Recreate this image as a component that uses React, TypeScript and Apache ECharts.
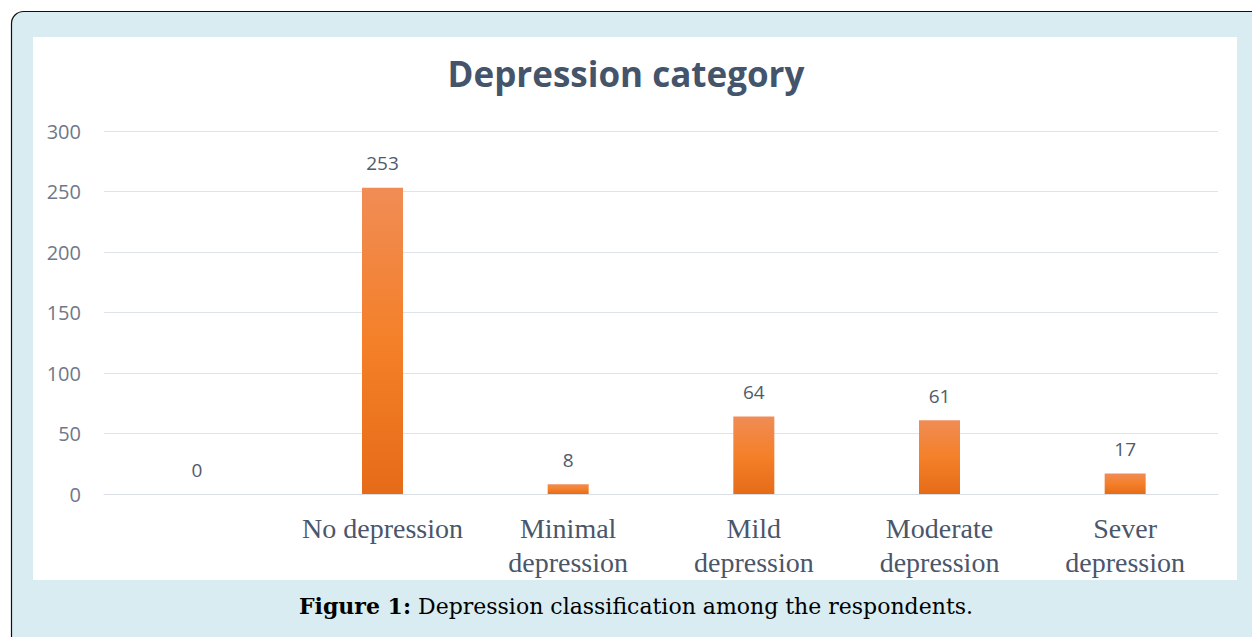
import React, { useEffect, useRef } from "react";
import * as echarts from "echarts";

const categories = ["", "No depression", "Minimal\ndepression", "Mild\ndepression", "Moderate\ndepression", "Sever\ndepression"];
const counts = [0, 253, 8, 64, 61, 17];
const yTicks = { min: 0, max: 300, interval: 50 };
const chartTitle = "Depression category";
const captionBold = "Figure 1:";
const captionText = " Depression classification among the respondents.";

export default function App() {
  const ref = useRef<HTMLDivElement>(null);
  useEffect(() => {
    document.body.style.margin = "0";
    const chart = echarts.init(ref.current!, null, { renderer: "svg" });
    chart.setOption({
      animation: false,
      backgroundColor: "#ffffff",
      graphic: [
        {
          type: "rect",
          z: -10,
          silent: true,
          shape: { x: 11.5, y: 11.5, width: 1252, height: 640, r: 12 },
          style: { fill: "#d8ecf1", stroke: "#111111", lineWidth: 1.2 },
        },
        {
          type: "rect",
          z: -9,
          silent: true,
          shape: { x: 33, y: 37, width: 1204, height: 543 },
          style: { fill: "#ffffff" },
        },
        {
          type: "text",
          x: 636,
          y: 606,
          style: {
            text: "{b|" + captionBold + "}{n|" + captionText + "}",
            align: "center",
            verticalAlign: "middle",
            rich: {
              b: { fontFamily: "DejaVu Serif", fontWeight: "bold", fontSize: 22, fill: "#000" },
              n: { fontFamily: "DejaVu Serif", fontSize: 22, fill: "#000" },
            },
          },
        },
      ],
      title: {
        text: chartTitle,
        left: "center",
        top: 51,
        textStyle: { fontFamily: "Open Sans", fontWeight: "bold", fontSize: 35, color: "#44546a" },
      },
      grid: { left: 104, right: 34, top: 131, bottom: 143, containLabel: false },
      xAxis: {
        type: "category",
        data: categories,
        axisLine: { show: true, lineStyle: { color: "#d9dde4", width: 1 } },
        axisTick: { show: false },
        axisLabel: {
          interval: 0,
          margin: 17,
          fontFamily: "Liberation Serif",
          fontSize: 28,
          lineHeight: 34,
          color: "#4a566a",
        },
      },
      yAxis: {
        type: "value",
        min: yTicks.min,
        max: yTicks.max,
        interval: yTicks.interval,
        axisLine: { show: false },
        axisTick: { show: false },
        splitLine: { lineStyle: { color: "#dfe3ea", width: 1 } },
        axisLabel: { fontFamily: "Open Sans", fontSize: 20, color: "#6f7888", margin: 23 },
      },
      series: [
        {
          type: "bar",
          data: counts,
          barWidth: 41,
          itemStyle: {
            color: new echarts.graphic.LinearGradient(0, 0, 0, 1, [
              { offset: 0, color: "#f08c55" },
              { offset: 0.5, color: "#f48029" },
              { offset: 1, color: "#e66b18" },
            ]),
            borderWidth: 0,
          },
          label: {
            show: true,
            position: "top",
            distance: 15,
            fontFamily: "Open Sans",
            fontSize: 19,
            color: "#4f5b6b",
          },
        },
      ],
    });
    return () => chart.dispose();
  }, []);
  return <div ref={ref} style={{ position: "absolute", left: 0, top: 0, width: 1252, height: 637 }} />;
}
